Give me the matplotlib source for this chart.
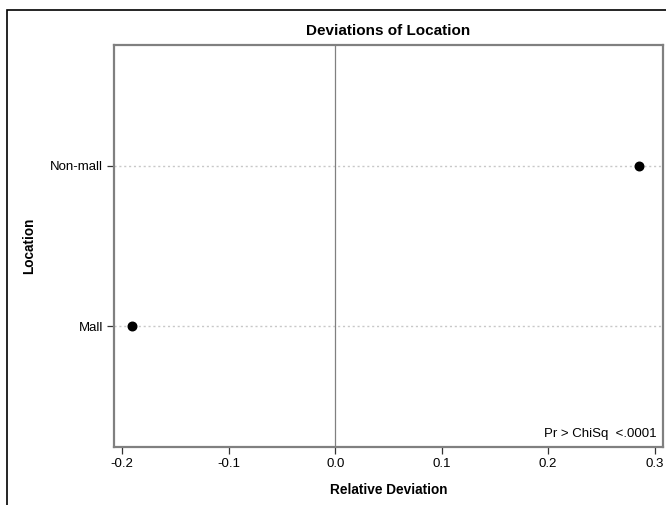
import matplotlib.pyplot as plt
from matplotlib.patches import Rectangle

plt.rcParams['font.family'] = ['Liberation Sans', 'DejaVu Sans']

locations = ['Mall', 'Non-mall']
rel_dev = [-0.1906, 0.2853]
xticks = [-0.2, -0.1, 0.0, 0.1, 0.2, 0.3]
xtick_labels = ['-0.2', '-0.1', '0.0', '0.1', '0.2', '0.3']

W, H = 666, 505
fig = plt.figure(figsize=(W / 100, H / 100), dpi=100)
ax = fig.add_axes([114 / W, 1 - 447 / H, (663 - 114) / W, (447 - 45) / H])

# outer frame of the graph
fig.patches.append(Rectangle((7 / W, -0.1), 1.2, 1 - 10 / H + 0.1,
                             transform=fig.transFigure, fill=False,
                             edgecolor='black', linewidth=1.2))

ypos = list(range(len(locations)))
for y in ypos:
    ax.axhline(y, color='#c8c8c8', linestyle=(0, (1.5, 2)), linewidth=1, zorder=1)
ax.axvline(0, color='#808080', linewidth=0.9, zorder=1)
ax.scatter(rel_dev, ypos, s=38, color='black', zorder=3)

ax.set_xlim(-0.2078, 0.3079)
ax.set_ylim(-0.75, 1.75)
ax.set_xticks(xticks)
ax.set_xticklabels(xtick_labels)
ax.set_yticks(ypos)
ax.set_yticklabels(locations)

for s in ax.spines.values():
    s.set_color('#808080')
    s.set_linewidth(1.6)
ax.tick_params(axis='both', length=5, width=0.9, color='#333333',
               labelsize=9.5, pad=3)

ax.set_title('Deviations of Location', fontsize=11, fontweight='bold', pad=7)
ax.set_xlabel('Relative Deviation', fontsize=9.8, fontweight='bold', labelpad=9)
ax.set_ylabel('Location', fontsize=9.8, fontweight='bold', labelpad=10)

ax.text(0.988, 0.018, 'Pr > ChiSq  <.0001', transform=ax.transAxes,
        ha='right', va='bottom', fontsize=9.5)

fig.savefig('out.png', dpi=100)
